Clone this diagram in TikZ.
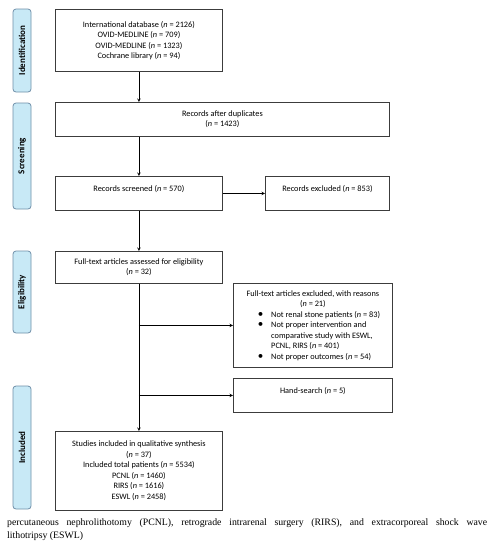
\documentclass[tikz,border=0pt]{standalone}
\usepackage{fontspec}
\usepackage{tikz}
\usetikzlibrary{arrows.meta, positioning, calc}
\newfontfamily\boxfont{Carlito}
\newfontfamily\capfont{Liberation Serif}
\definecolor{PhaseBlue}{HTML}{C8E9F6}
\definecolor{PhaseEdge}{HTML}{6F8FA8}
\definecolor{BoxLine}{HTML}{3C3C3C}
\newcommand{\bigbullet}{{\fontsize{11}{11}\selectfont\textbullet}}

\begin{document}
\begin{tikzpicture}[x=1pt, y=-1pt,
    flowbox/.style={draw=BoxLine, line width=0.8pt, anchor=north west, align=center, inner sep=2pt,
        font=\boxfont\fontsize{8.3}{10.5}\selectfont},
    phase/.style={draw=PhaseEdge, fill=PhaseBlue, rounded corners=3pt, line width=0.8pt, rotate=90,
        minimum height=18pt, inner sep=0pt, font=\boxfont\bfseries\fontsize{9}{10}\selectfont},
    flow/.style={->, >=stealth, draw=black, line width=0.6pt}]
    \useasboundingbox (0,0) rectangle (492,550);

    % phase labels
    \node[phase, minimum width=83pt] (pid) at (22,50.5) {Identification};
    \node[phase, minimum width=106pt] (pscr) at (22,156) {Screening};
    \node[phase, minimum width=82pt] (pelig) at (22,292) {Eligibility};
    \node[phase, minimum width=123pt] (pinc) at (22,447.5) {Included};

    % flow boxes
    \node[flowbox, minimum width=167pt, minimum height=62pt] (ident) at (55,9)
        {International database (\textit{n} = 2126)\\OVID-MEDLINE (\textit{n} = 709)\\OVID-MEDLINE (\textit{n} = 1323)\\Cochrane library (\textit{n} = 94)};
    \node[flowbox, minimum width=334pt, minimum height=34pt] (dup) at (55,102)
        {Records after duplicates\\(\textit{n} = 1423)};
    \node[flowbox, minimum width=167pt, minimum height=34pt, text depth=10pt] (screened) at (55,176)
        {Records screened (\textit{n} = 570)};
    \node[flowbox, minimum width=124pt, minimum height=34pt, text depth=10pt] (excl) at (265,176)
        {Records excluded (\textit{n} = 853)};
    \node[flowbox, minimum width=167pt, minimum height=32pt] (fulltext) at (55,251)
        {Full-text articles assessed for eligibility\\(\textit{n} = 32)};
    \node[flowbox, minimum width=159pt, minimum height=84pt] (reasons) at (233,283)
        {\begin{tabular}{@{\hspace{12pt}}r@{\hspace{8pt}}l@{}}
            \multicolumn{2}{@{}c@{}}{Full-text articles excluded, with reasons}\\
            \multicolumn{2}{@{}c@{}}{(\textit{n} = 21)}\\
            \bigbullet & Not renal stone patients (\textit{n} = 83)\\
            \bigbullet & Not proper intervention and\\
                       & comparative study with ESWL,\\
                       & PCNL, RIRS (\textit{n} = 401)\\
            \bigbullet & Not proper outcomes (\textit{n} = 54)
        \end{tabular}};
    \node[flowbox, minimum width=159pt, minimum height=34pt, text depth=10pt] (hand) at (233,378)
        {Hand-search (\textit{n} = 5)};
    \node[flowbox, minimum width=167pt, minimum height=79pt] (incl) at (55,431)
        {Studies included in qualitative synthesis\\(\textit{n} = 37)\\Included total patients (\textit{n} = 5534)\\PCNL (\textit{n} = 1460)\\RIRS (\textit{n} = 1616)\\ESWL (\textit{n} = 2458)};

    % connectors
    \draw[flow] (ident.south) -- (ident.south |- dup.north);
    \draw[flow] (ident.south |- dup.south) -- (screened.north);
    \draw[flow] (screened.east) -- (excl.west);
    \draw[flow] (screened.south) -- (fulltext.north);
    \draw[flow] (fulltext.south) -- (incl.north);
    \draw[flow] (fulltext.south |- reasons.west) -- (reasons.west);
    \draw[flow] (fulltext.south |- hand.west) -- (hand.west);

    % caption
    \node[anchor=north west, inner sep=0pt, text width=480pt, align=justify,
        font=\capfont\fontsize{9.8}{13.5}\selectfont] (caption) at (7,518)
        {percutaneous nephrolithotomy (PCNL), retrograde intrarenal surgery (RIRS), and extracorporeal shock wave\linebreak lithotripsy (ESWL)};
\end{tikzpicture}
\end{document}
